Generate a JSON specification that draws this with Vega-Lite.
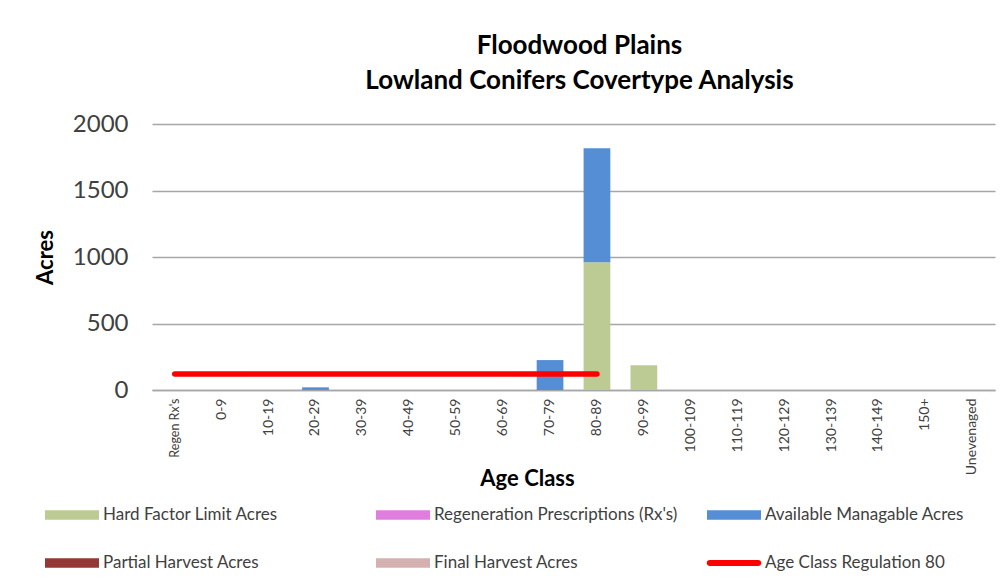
{
  "$schema": "https://vega.github.io/schema/vega-lite/v6.json",
  "autosize": {"type": "none"},
  "width": 843,
  "height": 266,
  "padding": {"left": 152, "top": 124, "right": 11, "bottom": 189},
  "background": "white",
  "config": {
    "font": "Lato",
    "view": {"stroke": null}
  },
  "title": {
    "text": ["Floodwood Plains", "Lowland Conifers Covertype Analysis"],
    "font": "Lato",
    "fontSize": 26,
    "fontWeight": "bold",
    "color": "#000000",
    "lineHeight": 35,
    "anchor": "middle",
    "dx": 6,
    "offset": 18
  },
  "datasets": {
    "bars": [
      {"age": "20-29", "series": "Available Managable Acres", "acres": 20, "ord": 2},
      {"age": "70-79", "series": "Available Managable Acres", "acres": 225, "ord": 2},
      {"age": "80-89", "series": "Hard Factor Limit Acres", "acres": 960, "ord": 1},
      {"age": "80-89", "series": "Available Managable Acres", "acres": 857, "ord": 2},
      {"age": "90-99", "series": "Hard Factor Limit Acres", "acres": 186, "ord": 1}
    ],
    "line": [
      {"age": "Regen Rx's", "series": "Age Class Regulation 80", "acres": 120},
      {"age": "0-9", "series": "Age Class Regulation 80", "acres": 120},
      {"age": "10-19", "series": "Age Class Regulation 80", "acres": 120},
      {"age": "20-29", "series": "Age Class Regulation 80", "acres": 120},
      {"age": "30-39", "series": "Age Class Regulation 80", "acres": 120},
      {"age": "40-49", "series": "Age Class Regulation 80", "acres": 120},
      {"age": "50-59", "series": "Age Class Regulation 80", "acres": 120},
      {"age": "60-69", "series": "Age Class Regulation 80", "acres": 120},
      {"age": "70-79", "series": "Age Class Regulation 80", "acres": 120},
      {"age": "80-89", "series": "Age Class Regulation 80", "acres": 120}
    ]
  },
  "encoding": {
    "x": {
      "field": "age",
      "type": "nominal",
      "sort": ["Regen Rx's", "0-9", "10-19", "20-29", "30-39", "40-49", "50-59", "60-69", "70-79", "80-89", "90-99", "100-109", "110-119", "120-129", "130-139", "140-149", "150+", "Unevenaged"],
      "scale": {
        "domain": ["Regen Rx's", "0-9", "10-19", "20-29", "30-39", "40-49", "50-59", "60-69", "70-79", "80-89", "90-99", "100-109", "110-119", "120-129", "130-139", "140-149", "150+", "Unevenaged"],
        "paddingInner": 0.43,
        "paddingOuter": 0.2
      },
      "axis": {
        "title": "Age Class",
        "titleFont": "Lato",
        "titleFontSize": 22,
        "titleFontWeight": "bold",
        "titleColor": "#000000",
        "titleX": 375,
        "titleY": 88,
        "titleBaseline": "middle",
        "labelAngle": -90,
        "labelFontSize": {"condition": {"test": "datum.value === \"Regen Rx's\"", "value": 12.5}, "value": 14},
        "labelColor": "#404040",
        "labelPadding": 8,
        "ticks": false,
        "domainColor": "#a6a6a6",
        "domainWidth": 1.5,
        "grid": false
      }
    },
    "y": {
      "field": "acres",
      "type": "quantitative",
      "stack": "zero",
      "scale": {"domain": [0, 2000]},
      "axis": {
        "title": "Acres",
        "titleFont": "Lato",
        "titleFontSize": 22,
        "titleFontWeight": "bold",
        "titleColor": "#000000",
        "titlePadding": 15,
        "values": [0, 500, 1000, 1500, 2000],
        "format": "d",
        "labelFontSize": 24,
        "labelColor": "#404040",
        "labelPadding": 24,
        "ticks": false,
        "domain": false,
        "gridColor": "#a6a6a6",
        "gridWidth": 1.5
      }
    },
    "color": {
      "field": "series",
      "type": "nominal",
      "scale": {
        "domain": ["Hard Factor Limit Acres", "Regeneration Prescriptions (Rx's)", "Available Managable Acres", "Partial Harvest Acres", "Final Harvest Acres", "Age Class Regulation 80"],
        "range": ["#bccb94", "#e07ee0", "#558ed5", "#953735", "#d4b0b0", "#ff0000"]
      },
      "legend": {
        "title": null,
        "orient": "none",
        "legendX": -107,
        "legendY": 364,
        "direction": "horizontal",
        "columns": 3,
        "gridAlign": "all",
        "columnPadding": 28,
        "rowPadding": 13,
        "symbolType": "M-1,-0.18H1V0.18H-1Z",
        "symbolSize": 2916,
        "symbolOpacity": 1,
        "symbolStrokeWidth": 0,
        "labelFontSize": 17,
        "labelColor": "#404040",
        "labelOffset": 4,
        "labelLimit": 400,
        "values": ["Hard Factor Limit Acres", "Regeneration Prescriptions (Rx's)", "Available Managable Acres", "Partial Harvest Acres", "Final Harvest Acres", "Age Class Regulation 80"],
        "encode": {
          "symbols": {
            "update": {
              "shape": {"signal": "datum.value === 'Age Class Regulation 80' ? 'M-0.9,-0.11H0.9A0.11,0.11 0 0 1 0.9,0.11H-0.9A0.11,0.11 0 0 1 -0.9,-0.11Z' : 'M-1,-0.18H1V0.18H-1Z'"},
              "fill": {"scale": "color", "field": "value"},
              "fillOpacity": {"value": 1},
              "strokeWidth": {"value": 0}
            }
          }
        }
      }
    }
  },
  "layer": [
    {
      "data": {"name": "bars"},
      "mark": {"type": "bar", "opacity": 1},
      "encoding": {
        "order": {"field": "ord", "type": "quantitative"}
      }
    },
    {
      "data": {"name": "line"},
      "mark": {"type": "line", "strokeWidth": 5.5, "strokeCap": "round"},
      "encoding": {}
    }
  ]
}
